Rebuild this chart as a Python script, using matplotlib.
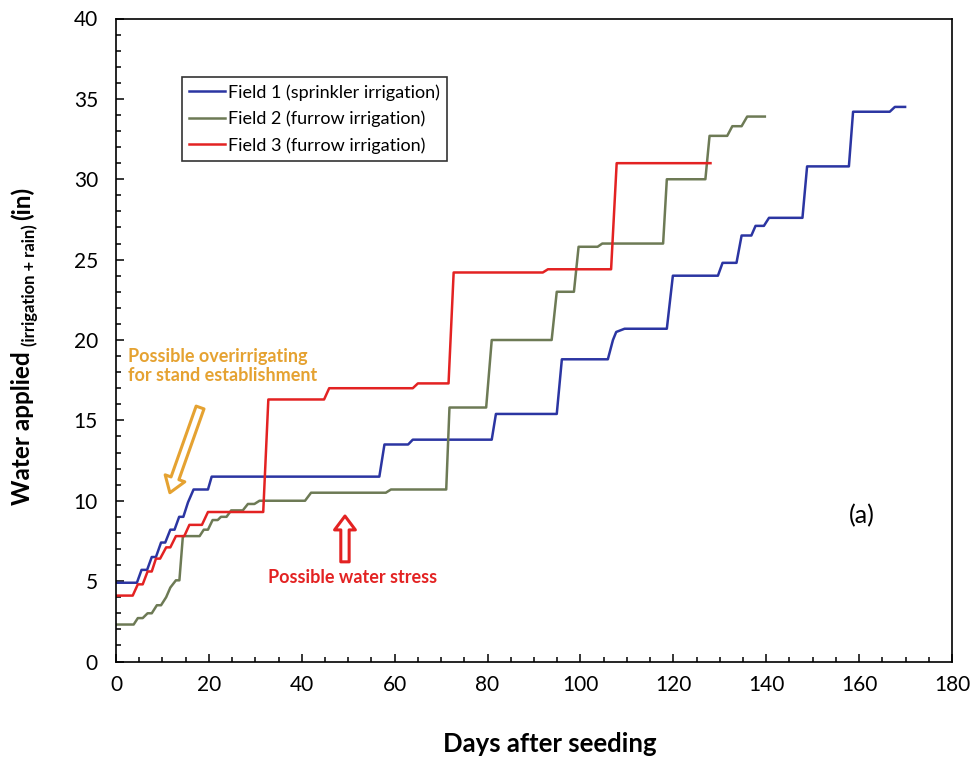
import matplotlib
matplotlib.use("Agg")
import matplotlib.pyplot as plt
from matplotlib.ticker import MultipleLocator

plt.rcParams['font.family'] = ['Lato', 'DejaVu Sans']

# cumulative water applied (day, inches)
field1_days = [0, 4.5, 5.5, 6.7, 7.7, 8.6, 9.7, 10.6, 11.7, 12.6, 13.6, 14.5, 15.5, 16.7,
               19.8, 20.6, 56.7, 57.8, 62.9, 63.9, 80.9, 81.8, 94.9, 96.0, 105.9, 107.0,
               107.7, 109.5, 118.6, 119.9, 129.6, 130.6, 133.6, 134.7, 136.8, 137.7,
               139.5, 140.6, 147.8, 148.8, 157.8, 158.7, 166.6, 167.7, 169.9]
field1_water = [4.9, 4.9, 5.7, 5.7, 6.5, 6.5, 7.4, 7.4, 8.2, 8.2, 9.0, 9.0, 9.9, 10.7,
                10.7, 11.5, 11.5, 13.5, 13.5, 13.8, 13.8, 15.4, 15.4, 18.8, 18.8, 20.0,
                20.5, 20.7, 20.7, 24.0, 24.0, 24.8, 24.8, 26.5, 26.5, 27.1,
                27.1, 27.6, 27.6, 30.8, 30.8, 34.2, 34.2, 34.5, 34.5]

field2_days = [0, 3.8, 4.7, 5.75, 6.8, 7.7, 8.8, 9.7, 10.8, 11.7, 12.9, 13.65, 14.4, 18.0,
               18.9, 19.8, 20.8, 21.9, 22.6, 23.8, 24.8, 27.3, 28.4, 29.8, 30.9, 40.7,
               42.0, 58.1, 59.2, 71.1, 71.8, 79.7, 80.9, 93.8, 94.9, 98.6, 99.6, 103.7,
               104.7, 117.8, 118.6, 126.9, 127.8, 131.6, 132.7, 134.7, 135.9, 139.7]
field2_water = [2.3, 2.3, 2.7, 2.7, 3.0, 3.0, 3.5, 3.5, 4.0, 4.6, 5.05, 5.05, 7.8, 7.8,
                8.2, 8.2, 8.8, 8.8, 9.0, 9.0, 9.4, 9.4, 9.8, 9.8, 10.0, 10.0,
                10.5, 10.5, 10.7, 10.7, 15.8, 15.8, 20.0, 20.0, 23.0, 23.0, 25.8, 25.8,
                26.0, 26.0, 30.0, 30.0, 32.7, 32.7, 33.3, 33.3, 33.9, 33.9]

field3_days = [0, 3.6, 4.7, 5.75, 6.8, 7.7, 8.6, 9.5, 10.8, 11.7, 12.9, 14.7, 15.8, 18.5,
               19.8, 31.7, 32.8, 44.8, 45.9, 63.9, 65.0, 71.6, 72.7, 91.9, 93.0, 106.6,
               107.8, 128.0]
field3_water = [4.1, 4.1, 4.8, 4.8, 5.6, 5.6, 6.4, 6.4, 7.1, 7.1, 7.8, 7.8, 8.5, 8.5,
                9.3, 9.3, 16.3, 16.3, 17.0, 17.0, 17.3, 17.3, 24.2, 24.2, 24.4, 24.4,
                31.0, 31.0]

labels = ['Field 1 (sprinkler irrigation)', 'Field 2 (furrow irrigation)',
          'Field 3 (furrow irrigation)']

orange = '#E5A231'
red = '#E32222'

fig = plt.figure(figsize=(9.71, 7.59), dpi=100)
ax = fig.add_axes([116 / 971, 1 - 661.5 / 759, 836 / 971, 643 / 759])

ax.plot(field1_days, field1_water, color='#2B35A2', lw=1.8, label=labels[0])
ax.plot(field2_days, field2_water, color='#6D7A55', lw=1.8, label=labels[1])
ax.plot(field3_days, field3_water, color=red, lw=1.8, label=labels[2])

ax.set_xlim(0, 180)
ax.set_ylim(0, 40)
ax.xaxis.set_major_locator(MultipleLocator(20))
ax.xaxis.set_minor_locator(MultipleLocator(5))
ax.yaxis.set_major_locator(MultipleLocator(5))
ax.yaxis.set_minor_locator(MultipleLocator(1))
ax.tick_params(which='both', direction='in', width=1.1, labelsize=15)
ax.tick_params(which='major', length=6)
ax.tick_params(which='minor', length=3.5)
ax.tick_params(axis='x', pad=10)
ax.tick_params(axis='y', pad=13)
for s in ax.spines.values():
    s.set_linewidth(1.2)

leg = ax.legend(loc='upper left', bbox_to_anchor=(0.079, 0.909), borderaxespad=0,
                fontsize=13, frameon=True, fancybox=False, edgecolor='black',
                handlelength=2.0, handletextpad=0.15, borderpad=0.4, labelspacing=0.55)
leg.get_frame().set_linewidth(1.2)

# annotations
ax.text(2.6, 19.5, 'Possible overirrigating\nfor stand establishment', color=orange,
        fontsize=13, fontweight='bold', ha='left', va='top', linespacing=1.15)
ax.annotate('', xy=(11.6, 10.5), xytext=(18.1, 15.8),
            arrowprops=dict(arrowstyle='simple,head_width=0.75,head_length=0.55,tail_width=0.3',
                            fc='white', ec=orange, lw=2.2, mutation_scale=20,
                            shrinkA=0, shrinkB=0))
ax.text(32.7, 4.9, 'Possible water stress', color=red, fontsize=13,
        fontweight='bold', ha='left', va='baseline')
ax.annotate('', xy=(49.3, 9.05), xytext=(49.3, 6.2),
            arrowprops=dict(arrowstyle='simple,head_width=0.75,head_length=0.5,tail_width=0.3',
                            fc='white', ec=red, lw=2.2, mutation_scale=20,
                            shrinkA=0, shrinkB=0))
ax.text(160.6, 9.1, '(a)', fontsize=18, ha='center', va='center')

# axis labels
fig.text(550 / 971, 7 / 759, 'Days after seeding', fontsize=18.5, fontweight='bold',
         ha='center', va='baseline')

renderer = fig.canvas.get_renderer()
ylab_parts = [('Water applied', 17.5, 30), ('(irrigation + rain)', 12, 35), ('(in)', 17.5, 30)]
y0 = 759 - 505
for txt, size, xbase in ylab_parts:
    t = fig.text(xbase / 971, y0 / 759, txt, fontsize=size, fontweight='bold',
                 rotation=90, rotation_mode='anchor', ha='left', va='baseline')
    bb = t.get_window_extent(renderer)
    y0 = bb.y1 + 5

fig.savefig('out.png', dpi=100)
